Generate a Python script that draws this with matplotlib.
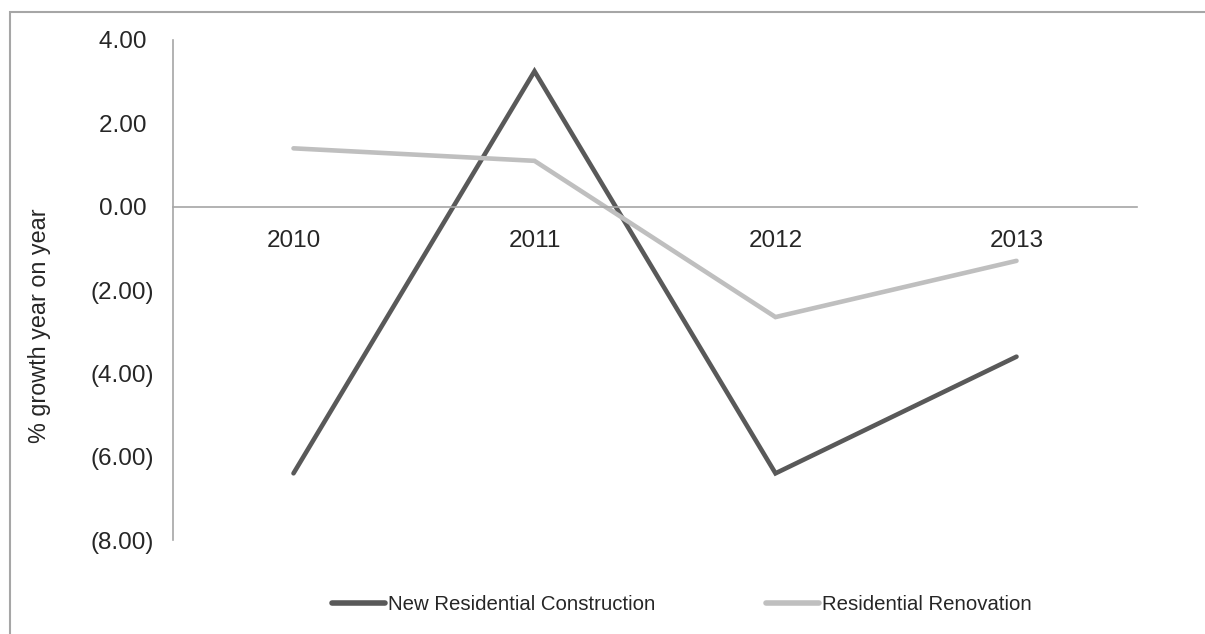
from matplotlib import pyplot as plt
from matplotlib.patches import Rectangle
import numpy as np

plt.rcParams['font.family'] = ['Liberation Sans', 'DejaVu Sans']

years = ['2010', '2011', '2012', '2013']
new_construction = [-6.4, 3.25, -6.4, -3.6]
renovation = [1.4, 1.1, -2.65, -1.3]
series_names = ['New Residential Construction', 'Residential Renovation']

dark = '#595959'
light = '#bfbfbf'
axis_grey = '#a6a6a6'
text_col = '#262626'

fig = plt.figure(figsize=(12.05, 6.34), dpi=100)
W, H = 1205, 634

# outer chart frame (cropped at right and bottom in the original)
fig.patches.append(Rectangle((10 / W, -0.1), 1.2, (634 - 12) / H + 0.1,
                             transform=fig.transFigure, fill=False,
                             edgecolor=axis_grey, linewidth=1.5))

ax = fig.add_axes([173 / W, (H - 540) / H, 964 / W, 500 / H])

x = np.arange(len(years))
ax.plot(x, new_construction, color=dark, linewidth=3.3, solid_capstyle='round',
        solid_joinstyle='miter', label=series_names[0])
ax.plot(x, renovation, color=light, linewidth=3.3, solid_capstyle='round',
        solid_joinstyle='miter', label=series_names[1])

ax.set_xlim(-0.5, 3.5)
ax.set_ylim(-8, 4)
ax.set_yticks(np.arange(-8, 5, 2))
ax.yaxis.set_major_formatter(
    plt.FuncFormatter(lambda v, p: f'({abs(v):.2f})' if v < 0 else f'{v:.2f} '))

for s in ['top', 'right']:
    ax.spines[s].set_visible(False)
ax.spines['left'].set_color(axis_grey)
ax.spines['left'].set_linewidth(1.2)
ax.spines['bottom'].set_position(('data', 0))
ax.spines['bottom'].set_color(axis_grey)
ax.spines['bottom'].set_linewidth(1.2)

ax.set_xticks(x)
ax.set_xticklabels(years)
ax.tick_params(axis='x', length=0, pad=16.5, labelsize=17.5, labelcolor=text_col)
ax.tick_params(axis='y', length=0, pad=14, labelsize=17.5, labelcolor=text_col)

fig.text(40 / W, 1 - 326 / H, '% growth year on year', rotation=90,
         ha='center', va='center', fontsize=16.8, color=text_col)

leg = ax.legend(loc='center', bbox_to_anchor=(0.528, (540 - 605) / 500),
                ncol=2, frameon=False, fontsize=14.7, handlelength=2.6,
                handletextpad=0.15, columnspacing=5.4, borderpad=0)
for t in leg.get_texts():
    t.set_color(text_col)
for h in leg.get_lines():
    h.set_linewidth(4)

fig.savefig('out.png', dpi=100)
